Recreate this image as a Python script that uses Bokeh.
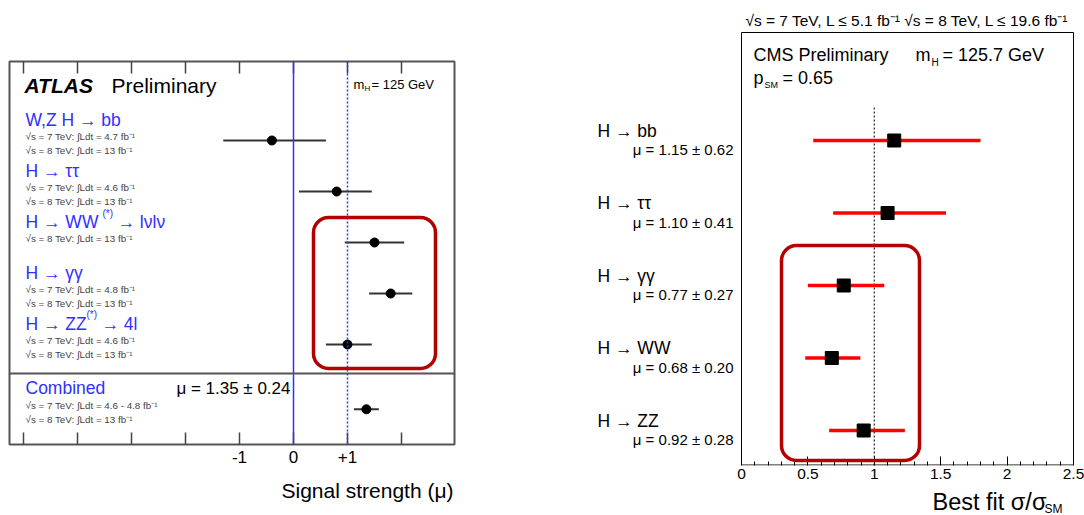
from bokeh.plotting import figure
from bokeh.models import (Range1d, FixedTicker, LinearAxis, Span, Label,
                          BoxAnnotation, NumeralTickFormatter)
from bokeh.layouts import row, column
from bokeh.embed import file_html
from bokeh.resources import INLINE

FONT = "Liberation Sans"
BLUE = "#3030ff"
BOXRED = "#b50000"

# ---------------- ATLAS data ----------------
atlas_channels = ["W,Z H → bb", "H → ττ", "H → WW", "H → γγ", "H → ZZ", "Combined"]
atlas_mu = [-0.4, 0.8, 1.5, 1.8, 1.0, 1.35]
atlas_lo = [-1.3, 0.1, 0.95, 1.4, 0.6, 1.12]
atlas_hi = [0.6, 1.45, 2.05, 2.2, 1.45, 1.58]
atlas_lumi = [
    ["√s = 7 TeV: ∫Ldt = 4.7 fb⁻¹", "√s = 8 TeV: ∫Ldt = 13 fb⁻¹"],
    ["√s = 7 TeV: ∫Ldt = 4.6 fb⁻¹", "√s = 8 TeV: ∫Ldt = 13 fb⁻¹"],
    ["√s = 8 TeV: ∫Ldt = 13 fb⁻¹"],
    ["√s = 7 TeV: ∫Ldt = 4.8 fb⁻¹", "√s = 8 TeV: ∫Ldt = 13 fb⁻¹"],
    ["√s = 7 TeV: ∫Ldt = 4.6 fb⁻¹", "√s = 8 TeV: ∫Ldt = 13 fb⁻¹"],
    ["√s = 7 TeV: ∫Ldt = 4.6 - 4.8 fb⁻¹", "√s = 8 TeV: ∫Ldt = 13 fb⁻¹"],
]
atlas_ticks = [-5, -4, -3, -2, -1, 0, 1, 2]
atlas_tick_labels = {-1: "-1", 0: "0", 1: "+1"}
atlas_combined_text = "μ = 1.35 ± 0.24"

# ---------------- CMS data ----------------
cms_channels = ["H → bb", "H → ττ", "H → γγ", "H → WW", "H → ZZ"]
cms_mu = [1.15, 1.10, 0.77, 0.68, 0.92]
cms_err = [0.62, 0.41, 0.27, 0.20, 0.28]
cms_lo = [0.54, 0.69, 0.50, 0.48, 0.66]
cms_hi = [1.80, 1.54, 1.075, 0.895, 1.23]
cms_ticks = [0, 0.5, 1, 1.5, 2, 2.5]

# ---------------- layout helpers (page pixels -> data units) ----------------
def lx(px):
    return (px - 293) / 54.0

def ly(py):
    return (py - 140) / 51.0

def rx(px):
    return (px - 741) / 132.8

def ry(py):
    return (py - 140) / 72.5

atlas_rows = [0, 1, 2, 3, 4, 5.27]
cms_rows = list(range(len(cms_channels)))


def lab(p, x, y, text, size, color="black", style="normal", align="left"):
    p.add_layout(Label(x=x, y=y, text=text, text_font=FONT, text_font_size=size,
                       text_color=color, text_font_style=style, text_align=align,
                       text_baseline="middle"))


def strip(width, height, fx0, fx1, y0, bl, br):
    # text strip whose frame spans page pixels fx0..fx1 (aligned with the plot above)
    s = figure(width=width, height=height, title=None,
               x_range=Range1d(fx0, fx1), y_range=Range1d(y0 + height, y0),
               x_axis_location=None, y_axis_location=None, toolbar_location=None,
               output_backend="svg", min_border_left=bl, min_border_right=br,
               min_border_top=0, min_border_bottom=0)
    s.grid.visible = False
    s.outline_line_color = None
    s.background_fill_color = "white"
    s.border_fill_color = "white"
    return s

# ================= LEFT: ATLAS =================
p1 = figure(width=568, height=472, title=None,
            x_range=Range1d(lx(9), lx(454)), y_range=Range1d(ly(444), ly(61)),
            y_axis_location=None, toolbar_location=None, output_backend="svg",
            min_border_left=9, min_border_right=114, min_border_top=61, min_border_bottom=28)
p1.grid.visible = False
p1.outline_line_color = "#555555"
p1.outline_line_width = 2
p1.background_fill_color = "white"
p1.border_fill_color = "white"

ax = p1.xaxis[0]
ax.ticker = FixedTicker(ticks=atlas_ticks)
ax.major_label_overrides = {t: atlas_tick_labels.get(t, "") for t in atlas_ticks}
ax.major_tick_in = 12
ax.major_tick_out = 0
ax.minor_tick_line_color = None
ax.axis_line_color = None
ax.major_tick_line_color = "#444444"
ax.major_tick_line_width = 1.5
ax.major_label_text_font = FONT
ax.major_label_text_font_size = "17px"
ax.major_label_text_color = "black"
ax.major_label_standoff = 6

top_ax = LinearAxis(ticker=FixedTicker(ticks=atlas_ticks),
                    major_label_overrides={t: "" for t in atlas_ticks},
                    major_tick_in=12, major_tick_out=0, minor_tick_line_color=None,
                    axis_line_color=None, major_tick_line_color="#444444",
                    major_tick_line_width=1.5, major_label_standoff=0,
                    major_label_text_font_size="1px")
p1.add_layout(top_ax, "above")

p1.add_layout(Span(location=0, dimension="height", line_color=BLUE, line_width=1.5))
p1.add_layout(Span(location=1, dimension="height", line_color=BLUE, line_width=1.5,
                   line_dash="2 2"))
p1.add_layout(Span(location=ly(373), dimension="width", line_color="#555555", line_width=2))

p1.segment(x0=atlas_lo, x1=atlas_hi, y0=atlas_rows, y1=atlas_rows,
           line_color="#333333", line_width=2)
p1.scatter(x=atlas_mu, y=atlas_rows, size=9, color="black")

p1.add_layout(BoxAnnotation(left=lx(313), right=lx(435), top=ly(217), bottom=ly(368),
                            fill_alpha=0, line_color=BOXRED, line_alpha=1,
                            line_width=3.5, border_radius=15))

lab(p1, lx(24), ly(85), "ATLAS", "21px", style="bold italic")
lab(p1, lx(111), ly(85), "Preliminary", "21px")
lab(p1, lx(353), ly(84), "m", "13px")
lab(p1, lx(364), ly(88), "H", "8px")
lab(p1, lx(371), ly(84), "= 125 GeV", "13px")

for i, name in enumerate(atlas_channels):
    ypx = 140 + 51 * atlas_rows[i]
    lab(p1, lx(25), ly(ypx - 21), name, "17.5px", color=BLUE)
    for j, line in enumerate(atlas_lumi[i]):
        lab(p1, lx(25), ly(ypx - 4 + 14 * j), line, "9.8px", color="#444444")

# superscripts and decay products of the WW / ZZ labels
lab(p1, lx(102), ly(140 + 51 * 2 - 29), "(*)", "10px", color=BLUE)
lab(p1, lx(117), ly(140 + 51 * 2 - 21), "→ lνlν", "17.5px", color=BLUE)
lab(p1, lx(86), ly(140 + 51 * 4 - 30), "(*)", "10px", color=BLUE)
lab(p1, lx(101), ly(140 + 51 * 4 - 21), "→ 4l", "17.5px", color=BLUE)

lab(p1, lx(290), ly(388), atlas_combined_text, "17px", align="right")

s1 = strip(568, 43, 9, 454, 472, 9, 114)
lab(s1, 453, 490, "Signal strength (μ)", "21px", align="right")

# ================= RIGHT: CMS =================
p2 = figure(width=516, height=487, title=None,
            x_range=Range1d(rx(568), rx(1084)), y_range=Range1d(ry(465), ry(0)),
            y_axis_location=None, toolbar_location=None, output_backend="svg",
            min_border_left=0, min_border_right=0, min_border_top=0, min_border_bottom=22)
p2.grid.visible = False
p2.outline_line_color = None
p2.background_fill_color = "white"
p2.border_fill_color = "white"

bx = p2.xaxis[0]
bx.ticker = FixedTicker(ticks=cms_ticks,
                        minor_ticks=[k / 10 for k in range(26) if k % 5])
bx.formatter = NumeralTickFormatter(format="0.[0]")
bx.major_tick_in = 9
bx.major_tick_out = 0
bx.minor_tick_in = 4
bx.minor_tick_out = 0
bx.axis_line_color = None
bx.major_tick_line_color = "black"
bx.minor_tick_line_color = "black"
bx.major_label_text_font = FONT
bx.major_label_text_font_size = "15.5px"
bx.major_label_text_color = "black"
bx.major_label_standoff = 3

# CMS panel frame
p2.add_layout(BoxAnnotation(left=0, right=2.5, top=ry(32), bottom=ry(464.5),
                            fill_alpha=0, line_color="black", line_alpha=1, line_width=1))

p2.segment(x0=[1], x1=[1], y0=[ry(107)], y1=[ry(465)], line_color="#333333",
           line_width=1.3, line_dash="2 2")

p2.segment(x0=cms_lo, x1=cms_hi, y0=cms_rows, y1=cms_rows, line_color="#ff0000",
           line_width=3.5)
p2.scatter(x=cms_mu, y=cms_rows, marker="square", size=13, color="black")

p2.add_layout(BoxAnnotation(left=rx(781), right=rx(919), top=ry(245), bottom=ry(460),
                            fill_alpha=0, line_color=BOXRED, line_alpha=1,
                            line_width=3.5, border_radius=15))

for i, name in enumerate(cms_channels):
    ypx = 140 + 72.5 * cms_rows[i]
    lab(p2, rx(597), ry(ypx - 10), name, "17.5px")
    lab(p2, rx(733), ry(ypx + 9), f"μ = {cms_mu[i]:.2f} ± {cms_err[i]:.2f}", "15px",
        align="right")

lab(p2, rx(1073), ry(20), "√s = 7 TeV, L ≤ 5.1 fb⁻¹  √s = 8 TeV, L ≤ 19.6 fb⁻¹",
    "15.5px", align="right")
lab(p2, rx(753), ry(54), "CMS Preliminary", "18px")
lab(p2, rx(915), ry(54), "m", "18px")
lab(p2, rx(931), ry(62), "H", "10px")
lab(p2, rx(942), ry(54), "= 125.7 GeV", "18px")
lab(p2, rx(753), ry(77), "p", "18px")
lab(p2, rx(764), ry(84), "SM", "9px")
lab(p2, rx(782), ry(77), "= 0.65", "18px")

s2 = strip(516, 28, 568, 1084, 487, 0, 0)
lab(s2, 932, 501, "Best fit σ/σ", "23.5px")
lab(s2, 1036 + 8, 508, "SM", "12px")

layout = row(column(p1, s1), column(p2, s2))
open("out.html", "w").write(file_html(layout, INLINE))
